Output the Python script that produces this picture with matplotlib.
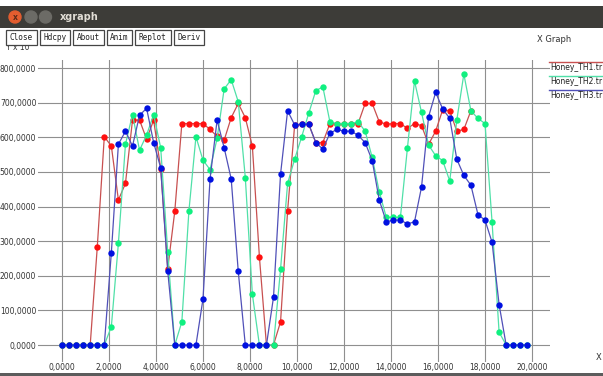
import matplotlib
matplotlib.use("Agg")
import matplotlib.pyplot as plt
from matplotlib.patches import Rectangle, Circle

# sample spacing of the traces (x units)
step = 0.3

th1 = [0, 0, 0, 0, 0, 282, 602, 575, 419, 467, 650, 650, 595, 650, 510, 221,
       387, 640, 640, 640, 640, 623, 603, 592, 657, 698, 657, 575, 255, 0,
       0, 67, 387, 636, 638, 638, 585, 585, 640, 640, 640, 640, 640, 698, 698,
       645, 638, 640, 640, 626, 640, 634, 580, 618, 680, 677, 618, 623, 677]
th2 = [0, 0, 0, 0, 0, 0, 0, 53, 294, 580, 666, 563, 607, 666, 570, 268,
       0, 67, 387, 602, 534, 507, 597, 740, 767, 703, 484, 147, 0, 0,
       0, 219, 467, 537, 602, 670, 735, 746, 645, 640, 640, 640, 645, 618, 542,
       443, 369, 369, 369, 570, 763, 672, 578, 547, 533, 474, 650, 783, 677,
       655, 640, 356, 37, 0, 0, 0, 0]
th3 = [0, 0, 0, 0, 0, 0, 0, 267, 580, 618, 575, 664, 684, 585, 512, 213,
       0, 0, 0, 0, 133, 480, 650, 570, 480, 213, 0, 0, 0, 0,
       138, 494, 677, 636, 638, 638, 585, 566, 612, 623, 618, 618, 606, 585, 533,
       419, 356, 361, 361, 350, 356, 457, 660, 730, 682, 655, 537, 490, 462,
       377, 361, 297, 117, 0, 0, 0, 0]

names = ["Honey_TH1.tr", "Honey_TH2.tr", "Honey_TH3.tr"]
xticks = [0, 2, 4, 6, 8, 10, 12, 14, 16, 18, 20]
yticks = [0, 100, 200, 300, 400, 500, 600, 700, 800]
buttons = ["Close", "Hdcpy", "About", "Anim", "Replot", "Deriv"]

W, H = 603, 376
fig = plt.figure(figsize=(W / 100, H / 100), dpi=100)
fig.patch.set_facecolor("white")

# plot area, placed in pixel units of the screenshot
left, right, top, bottom = 38, 550, 60, 362
ax = fig.add_axes([left / W, (H - bottom) / H, (right - left) / W, (bottom - top) / H])
ax.set_zorder(1)

styles = [("#c85050", "#ff1010"), ("#50e0a8", "#10f080"), ("#5050b8", "#0010e0")]
for vals, (lc, mc) in zip([th1, th2, th3], styles):
    xs = [i * step for i in range(len(vals))]
    ax.plot(xs, vals, color=lc, lw=0.9, marker="o", ms=4.6,
            mfc=mc, mec=mc, mew=0, clip_on=False)

# x=0 at px 62, 23.5 px per unit; y=0 at px 345, 0.346 px per unit
ax.set_xlim((left - 62) / 23.5, (right - 62) / 23.5)
ax.set_ylim((345 - bottom) / 0.346, (345 - top) / 0.346)
ax.set_xticks(xticks)
ax.set_yticks(yticks)
ax.set_xticklabels([f"{v:.4f}".replace(".", ",") for v in xticks])
ax.set_yticklabels([f"{v:.4f}".replace(".", ",") for v in yticks])
ax.tick_params(length=0, labelsize=5.5, labelcolor="#333333")
ax.tick_params(axis="y", pad=1.2)
ax.tick_params(axis="x", pad=1.0)
ax.grid(True, color="#8f8f8f", lw=0.8)
ax.set_axisbelow(True)
for s in ax.spines.values():
    s.set_visible(False)

# window chrome drawn in pixel coordinates on top
cx = fig.add_axes([0, 0, 1, 1])
cx.set_zorder(3)
cx.patch.set_alpha(0)
cx.set_xlim(0, W)
cx.set_ylim(H, 0)
cx.axis("off")

cx.add_patch(Rectangle((0, 6), W, 22, color="#3d3c38", lw=0))
cx.add_patch(Circle((15, 17), 6, color="#e35d2f"))
cx.text(15, 17.3, "x", color="#5a2a18", fontsize=5.5, ha="center", va="center",
        fontweight="bold")
cx.add_patch(Circle((31, 17), 6, color="#6c6b66"))
cx.add_patch(Circle((45.5, 17), 6, color="#6c6b66"))
cx.text(60, 17, "xgraph", color="#e2ded6", fontsize=7, fontweight="bold",
        va="center", ha="left")

cx.text(6, 48, "Y x 10", fontsize=5.5, color="#333333", va="center", zorder=1)
bx = 6
for name in buttons:
    w = 5.3 * len(name) + 4
    cx.add_patch(Rectangle((bx, 29.5), w, 15, fc="white", ec="#454545", lw=0.9, zorder=2))
    cx.text(bx + w / 2, 37.2, name, family="DejaVu Sans Mono", fontsize=5.6,
            color="#222222", ha="center", va="center", zorder=3)
    bx += w + 3

cx.text(537, 40, "X Graph", fontsize=6, color="#333333", va="center")

for k, (name, (lc, mc)) in enumerate(zip(names, styles)):
    y0 = 62 + 14 * k
    cx.plot([549, W], [y0, y0], color=lc, lw=1.0)
    cx.text(550, y0 + 5, name, fontsize=5.5, color="#222222", va="center")

cx.text(596, 358, "X", fontsize=6, color="#333333", va="center")
cx.add_patch(Rectangle((0, 373), W, 3, color="#5c5c5c", lw=0))

fig.savefig("out.png", dpi=100)
